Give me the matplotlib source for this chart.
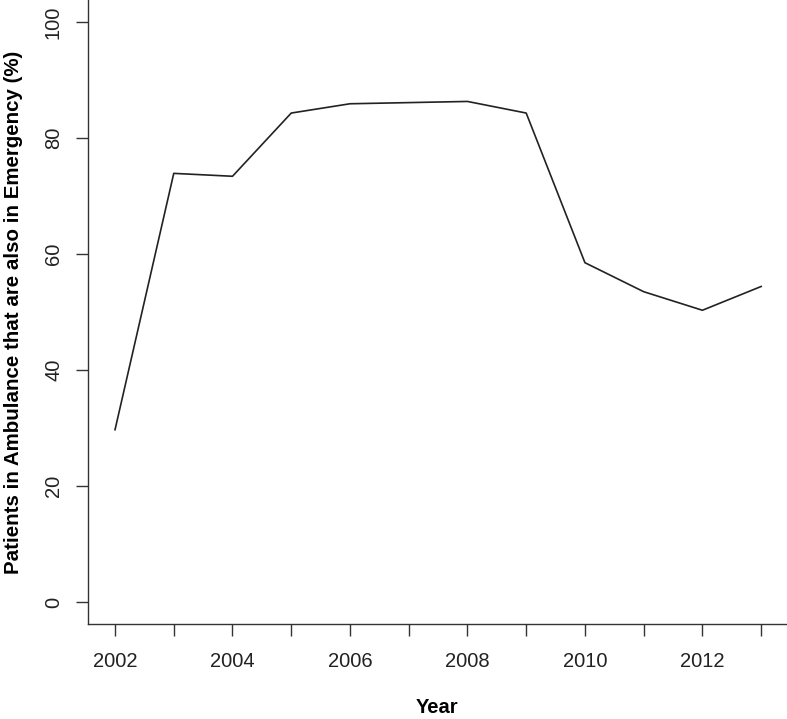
import matplotlib.pyplot as plt

years = [2002, 2003, 2004, 2005, 2006, 2007, 2008, 2009, 2010, 2011, 2012, 2013]
pct = [29.7, 73.9, 73.4, 84.3, 85.9, 86.1, 86.3, 84.3, 58.5, 53.5, 50.3, 54.4]

plt.rcParams['font.family'] = ['Liberation Sans', 'DejaVu Sans']

fig = plt.figure(figsize=(7.87, 7.19), dpi=100)
ax = fig.add_axes([88 / 787, 95 / 719, 1 - 88 / 787, 1 - 95 / 719])

ax.plot(years, pct, color='#222222', linewidth=1.2)

ax.set_xlim(2001.54, 2013.44)
ax.set_ylim(-3.79, 103.79)
ax.set_xticks(years)
ax.set_xticklabels([str(y) if y % 2 == 0 else '' for y in years])
ax.set_yticks([0, 20, 40, 60, 80, 100])
ax.tick_params(axis='y', labelrotation=90)
for lab in ax.get_yticklabels():
    lab.set_va('center')

ax.spines['top'].set_visible(False)
ax.spines['right'].set_visible(False)
for s in ['left', 'bottom']:
    ax.spines[s].set_color('#333333')
    ax.spines[s].set_linewidth(1.0)
ax.tick_params(direction='out', length=8.5, width=1.0, color='#333333',
               labelsize=14.5, labelcolor='#222222')
ax.tick_params(axis='x', pad=12)
ax.tick_params(axis='y', pad=9.5)

ax.set_xlabel('Year', fontsize=14.5, fontweight='bold', labelpad=19)
ax.set_ylabel('Patients in Ambulance that are also in Emergency (%)',
              fontsize=14.8, fontweight='bold', labelpad=15)

fig.savefig('out.png', dpi=100)
